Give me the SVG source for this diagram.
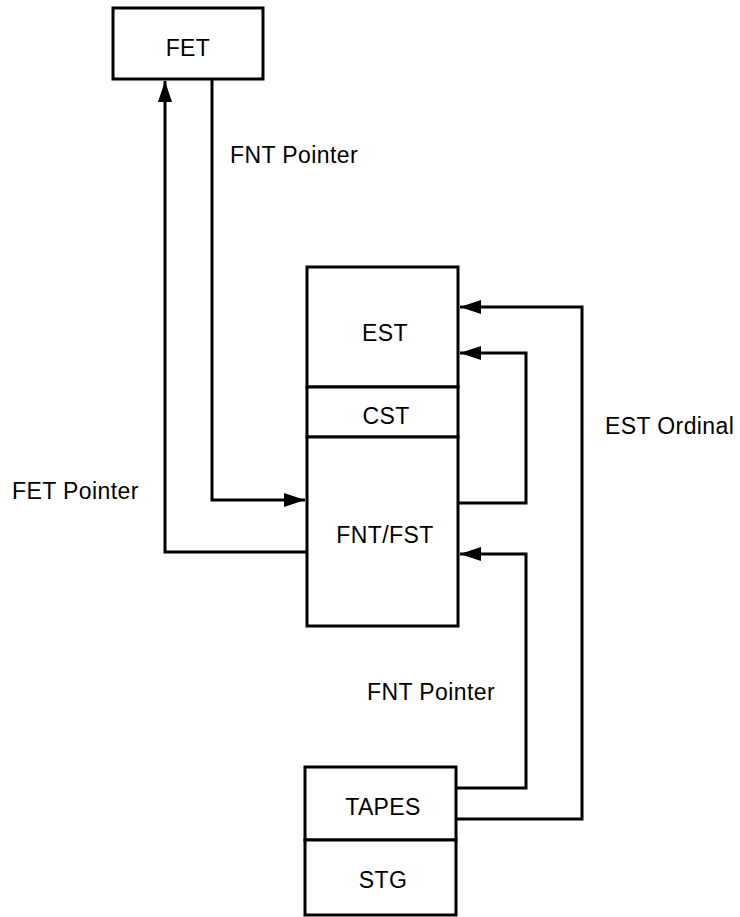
<svg xmlns="http://www.w3.org/2000/svg" width="740" height="917" viewBox="0 0 740 917">
<style>
.box{fill:#fff;stroke:#000;stroke-width:3}
.div{stroke:#000;stroke-width:3}
.lbl{font-family:"Liberation Sans",Arial,sans-serif;font-size:23px;fill:#000;letter-spacing:0.4px}
.c{text-anchor:middle}
.conn{fill:none;stroke:#000;stroke-width:3;stroke-linejoin:miter}
</style>
<defs>
<marker id="ah" markerUnits="userSpaceOnUse" markerWidth="22" markerHeight="14" refX="21" refY="7" orient="auto">
<path d="M0,0 L21,7 L0,14 z" fill="#000"/>
</marker>
</defs>
<rect width="740" height="917" fill="#fff"/>
<g id="connectors">
<path class="conn" d="M212,80 V500 H305" marker-end="url(#ah)"/>
<path class="conn" d="M307,552 H165 V81" marker-end="url(#ah)"/>
<path class="conn" d="M458,503 H526 V353 H460" marker-end="url(#ah)"/>
<path class="conn" d="M456,788 H526 V554 H460" marker-end="url(#ah)"/>
<path class="conn" d="M456,819 H582 V307 H460" marker-end="url(#ah)"/>
</g>
<g id="node-fet">
<rect class="box" x="113" y="8" width="150" height="71"/>
<text class="lbl c" x="188" y="56">FET</text>
</g>
<g id="node-est">
<rect class="box" x="307" y="267" width="151" height="120"/>
<text class="lbl c" x="385" y="341">EST</text>
</g>
<g id="node-cst">
<rect class="box" x="307" y="387" width="151" height="50"/>
<text class="lbl c" x="386" y="424">CST</text>
</g>
<g id="node-fntfst">
<rect class="box" x="307" y="437" width="151" height="189"/>
<text class="lbl c" x="385" y="543">FNT/FST</text>
</g>
<g id="node-tapes">
<rect class="box" x="305" y="767" width="151" height="73"/>
<text class="lbl c" x="383" y="815">TAPES</text>
</g>
<g id="node-stg">
<rect class="box" x="305" y="840" width="151" height="75"/>
<text class="lbl c" x="383" y="888">STG</text>
</g>
<g id="labels">
<text class="lbl" x="230" y="163">FNT Pointer</text>
<text class="lbl" x="12" y="499">FET Pointer</text>
<text class="lbl" x="605" y="434">EST Ordinal</text>
<text class="lbl" x="367" y="700">FNT Pointer</text>
</g>
</svg>
